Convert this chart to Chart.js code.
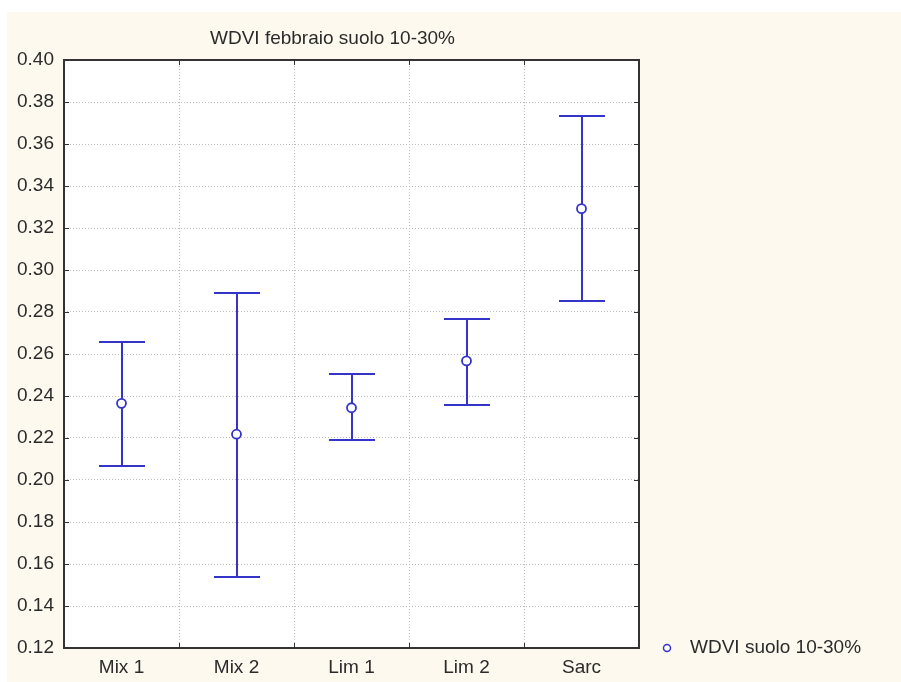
<!DOCTYPE html>
<html>
<head>
<meta charset="utf-8">
<script src="https://cdn.jsdelivr.net/npm/chart.js@4"></script>
<style>
  html, body { margin: 0; padding: 0; background: #fff; }
  #wrap { position: absolute; left: 7px; top: 12px; width: 894px; height: 670px; background: #fdf9ef; }
</style>
</head>
<body>
<div id="wrap"><canvas id="wdvi-chart" width="894" height="670"></canvas></div>
<script>
const categories = ["Mix 1", "Mix 2", "Lim 1", "Lim 2", "Sarc"];
const means = [0.2365, 0.2218, 0.2344, 0.2567, 0.3292];
const upper = [0.2656, 0.2889, 0.2506, 0.2767, 0.3732];
const lower = [0.2068, 0.1538, 0.2189, 0.2359, 0.2852];
const yTicks = [0.12, 0.14, 0.16, 0.18, 0.20, 0.22, 0.24, 0.26, 0.28, 0.30, 0.32, 0.34, 0.36, 0.38, 0.40];
const seriesName = "WDVI suolo 10-30%";
const chartTitle = "WDVI febbraio suolo 10-30%";

const blue = "#3434c8";
const ink = "#2b2b2b";
const fontFamily = '"Liberation Sans", Arial, sans-serif';
const fontSize = 19;

// vertical whiskers with caps, drawn under the mean markers
const whiskers = {
  id: "whiskers",
  beforeDatasetsDraw(chart) {
    const { ctx, scales: { x, y } } = chart;
    ctx.save();
    ctx.strokeStyle = blue;
    ctx.lineWidth = 2;
    categories.forEach((c, i) => {
      const px = Math.round(x.getPixelForValue(i));
      const top = Math.round(y.getPixelForValue(upper[i]));
      const bot = Math.round(y.getPixelForValue(lower[i]));
      ctx.beginPath();
      ctx.moveTo(px, top);
      ctx.lineTo(px, bot);
      ctx.moveTo(px - 23, top);
      ctx.lineTo(px + 23, top);
      ctx.moveTo(px - 23, bot);
      ctx.lineTo(px + 23, bot);
      ctx.stroke();
    });
    ctx.restore();
  }
};

// frame, inner tick marks, title and legend
const decorations = {
  id: "decorations",
  afterDraw(chart) {
    const { ctx, chartArea: a, scales: { x, y } } = chart;
    ctx.save();
    ctx.strokeStyle = "#333";
    ctx.lineWidth = 1;
    ctx.beginPath();
    y.ticks.forEach((t, i) => {
      const py = Math.round(y.getPixelForTick(i)) + 0.5;
      ctx.moveTo(a.left, py);
      ctx.lineTo(a.left + 5, py);
      ctx.moveTo(a.right - 5, py);
      ctx.lineTo(a.right, py);
    });
    for (let i = 1; i < categories.length; i++) {
      const px = Math.round((x.getPixelForValue(i - 1) + x.getPixelForValue(i)) / 2) + 0.5;
      ctx.moveTo(px, a.top);
      ctx.lineTo(px, a.top + 5);
      ctx.moveTo(px, a.bottom - 5);
      ctx.lineTo(px, a.bottom);
    }
    ctx.stroke();

    ctx.lineWidth = 2;
    ctx.strokeRect(a.left, a.top, a.right - a.left, a.bottom - a.top);

    ctx.fillStyle = ink;
    ctx.font = fontSize + "px " + fontFamily;
    ctx.textAlign = "center";
    ctx.textBaseline = "middle";
    ctx.fillText(chartTitle, (a.left + a.right) / 2 - 19, a.top - 21);

    ctx.textAlign = "left";
    ctx.fillText(seriesName, a.right + 51, a.bottom);
    ctx.beginPath();
    ctx.arc(a.right + 28, a.bottom, 3.5, 0, Math.PI * 2);
    ctx.fillStyle = "#fff";
    ctx.fill();
    ctx.strokeStyle = blue;
    ctx.lineWidth = 1.5;
    ctx.stroke();
    ctx.restore();
  }
};

// white plot background
const plotBackground = {
  id: "plotBackground",
  beforeDraw(chart) {
    const { ctx, chartArea: a } = chart;
    ctx.save();
    ctx.fillStyle = "#fff";
    ctx.fillRect(a.left, a.top, a.right - a.left, a.bottom - a.top);
    ctx.restore();
  }
};

new Chart(document.getElementById("wdvi-chart"), {
  type: "line",
  data: {
    labels: categories,
    datasets: [
      {
        label: seriesName,
        data: means,
        showLine: false,
        pointRadius: 4.5,
        pointHoverRadius: 4.5,
        pointBorderWidth: 1.8,
        pointBackgroundColor: "#fff",
        pointBorderColor: blue,
      },
    ],
  },
  options: {
    responsive: false,
    animation: false,
    devicePixelRatio: 1,
    layout: { padding: { left: 0, top: 48, right: 262, bottom: 0 } },
    plugins: {
      legend: { display: false },
      tooltip: { enabled: false },
    },
    scales: {
      x: {
        offset: true,
        grid: { offset: true, color: "#bdbdbd", drawTicks: false },
        border: { display: false, dash: [1, 2] },
        ticks: { color: ink, font: { family: fontFamily, size: fontSize }, padding: 8 },
        afterFit: (s) => { s.height = 34; },
      },
      y: {
        min: 0.12,
        max: 0.40,
        afterBuildTicks: (s) => { s.ticks = yTicks.map((v) => ({ value: v })); },
        grid: { color: "#bdbdbd", drawTicks: false },
        border: { display: false, dash: [1, 2] },
        ticks: {
          color: ink,
          font: { family: fontFamily, size: fontSize },
          padding: 10,
          callback: (v) => Number(v).toFixed(2),
        },
        afterFit: (s) => { s.width = 57; },
      },
    },
  },
  plugins: [plotBackground, whiskers, decorations],
});
</script>
</body>
</html>
